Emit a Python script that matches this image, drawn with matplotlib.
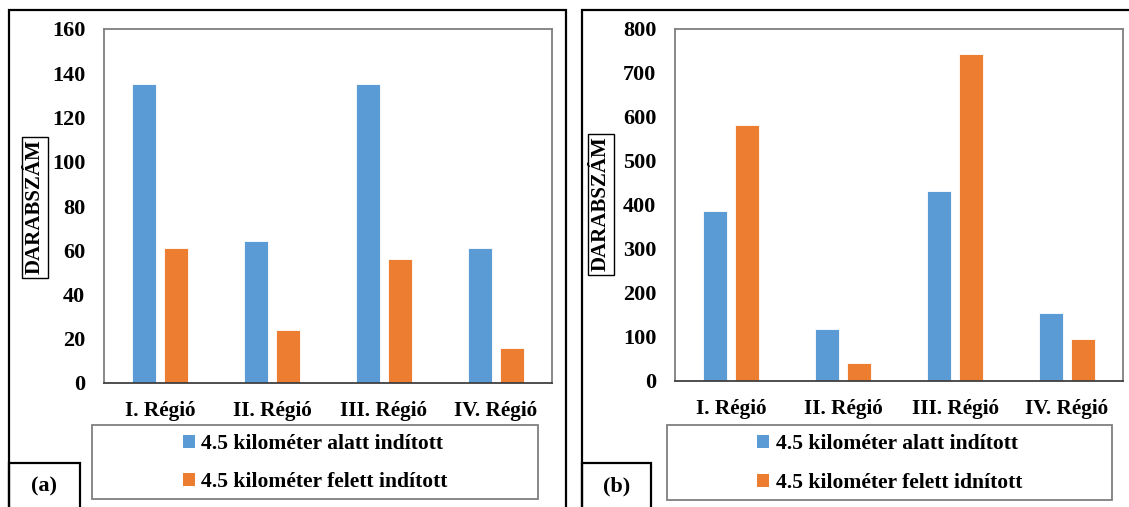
import matplotlib
matplotlib.use("Agg")
import matplotlib.pyplot as plt
from matplotlib.patches import Rectangle, Patch
import numpy as np

# Data
regions = ["I. Régió", "II. Régió", "III. Régió", "IV. Régió"]
below_a = [135, 64, 135, 61]
above_a = [61, 24, 56, 16]
below_b = [386, 118, 431, 155]
above_b = [581, 42, 744, 96]
labels_a = ["4.5 kilométer alatt indított", "4.5 kilométer felett indított"]
labels_b = ["4.5 kilométer alatt indított", "4.5 kilométer felett idnított"]
yticks_a = [0, 20, 40, 60, 80, 100, 120, 140, 160]
yticks_b = [0, 100, 200, 300, 400, 500, 600, 700, 800]
ylabel = "DARABSZÁM"
panel_tags = ["(a)", "(b)"]

BLUE = "#5B9BD5"
ORANGE = "#ED7D31"
FRAME_GRAY = "#7F7F7F"

W, H = 1129, 507
plt.rcParams["font.family"] = ["Liberation Serif", "DejaVu Serif"]
plt.rcParams["font.weight"] = "bold"

fig = plt.figure(figsize=(W / 100, H / 100), dpi=100)
fig.patch.set_facecolor("white")


def fx(px):
    return px / W


def fy(py):
    return 1 - py / H


def frect(x0, y0, x1, y1, **kw):
    r = Rectangle((fx(x0), fy(y1)), fx(x1) - fx(x0), fy(y0) - fy(y1),
                  transform=fig.transFigure, fill=False, **kw)
    fig.add_artist(r)


def panel(ax_px, below, above, yticks, labels, outer_px, ylab_px, leg_px, tag_px, tag):
    x0, y0, x1, y1 = ax_px
    ax = fig.add_axes([fx(x0), fy(y1), fx(x1) - fx(x0), fy(y0) - fy(y1)])
    x = np.arange(len(regions))
    bw = 0.221
    off = 0.142
    ax.bar(x - off, below, bw, color=BLUE, edgecolor="white", linewidth=0.6)
    ax.bar(x + off, above, bw, color=ORANGE, edgecolor="white", linewidth=0.6)
    ax.set_xlim(-0.5, len(regions) - 0.5)
    ax.set_ylim(yticks[0], yticks[-1])
    ax.set_yticks(yticks)
    ax.set_xticks(x)
    ax.set_xticklabels(regions, fontsize=15.3, fontweight="bold")
    ax.tick_params(axis="y", length=0, pad=13.5, labelsize=16)
    ax.tick_params(axis="x", length=0, pad=13)
    for lab in ax.get_yticklabels():
        lab.set_fontweight("bold")
    for s in ax.spines.values():
        s.set_color(FRAME_GRAY)
        s.set_linewidth(1.3)
    ax.spines["bottom"].set_color("#404040")

    # outer panel frame
    ox0, oy0, ox1, oy1 = outer_px
    frect(ox0, oy0, ox1, oy1, edgecolor="black", linewidth=1.6, clip_on=False)

    # y label in a box
    lx, ly = ylab_px
    fig.text(fx(lx), fy(ly), ylabel, rotation=90, ha="center", va="center",
             fontsize=15, fontweight="bold",
             bbox=dict(boxstyle="square,pad=0.15", facecolor="white",
                       edgecolor="black", linewidth=1.0))

    # legend box
    gx0, gy0, gx1, gy1 = leg_px
    frect(gx0, gy0, gx1, gy1, edgecolor=FRAME_GRAY, linewidth=1.3)
    handles = [Patch(facecolor=BLUE), Patch(facecolor=ORANGE)]
    fig.legend(handles, labels, loc="center",
               bbox_to_anchor=(fx((gx0 + gx1) / 2), fy((gy0 + gy1) / 2 + 1)),
               frameon=False, prop={"family": "Liberation Serif", "weight": "bold", "size": 15.6},
               handlelength=0.55, handleheight=0.55, handletextpad=0.3,
               labelspacing=0.85)

    # panel tag box
    tx0, ty0, tx1, ty1 = tag_px
    frect(tx0, ty0, tx1, ty1, edgecolor="black", linewidth=1.6, facecolor="white")
    fig.text(fx((tx0 + tx1) / 2), fy(486), tag, ha="center", va="center",
             fontsize=16, fontweight="bold")
    return ax


panel((104, 29, 552, 383), below_a, above_a, yticks_a, labels_a,
      (9, 10, 566, 520), (35, 207), (92, 425, 538, 499), (9, 463, 80, 520), panel_tags[0])
panel((675, 29, 1123, 381), below_b, above_b, yticks_b, labels_b,
      (582, 10, 1140, 520), (601, 204), (667, 425, 1112, 500), (582, 463, 651, 520), panel_tags[1])

fig.savefig("out.png", dpi=100, facecolor="white")
